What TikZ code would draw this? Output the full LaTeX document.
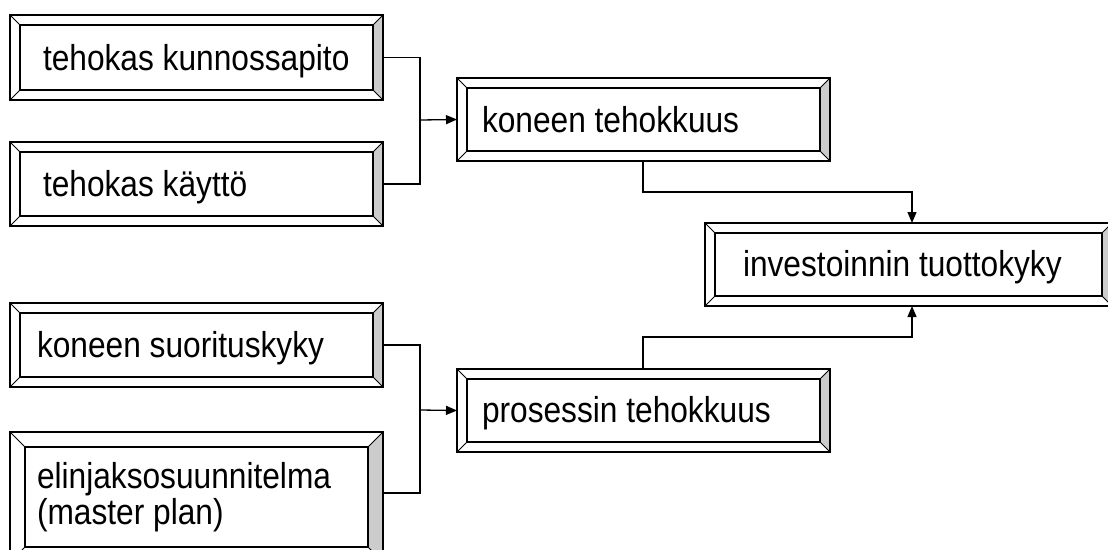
\documentclass[tikz,border=0pt]{standalone}
\usepackage{fontspec}
\setmainfont{Liberation Sans}[FakeStretch=0.88]
\usetikzlibrary{arrows.meta,calc}
\newcommand\bevelframe[2]{%
  \path (#1.north west) ++(#2,#2) coordinate (#1-a);
  \path (#1.north east) ++(-#2,#2) coordinate (#1-b);
  \path (#1.south east) ++(-#2,-#2) coordinate (#1-c);
  \path (#1.south west) ++(#2,-#2) coordinate (#1-d);
  \fill[bevelshade] (#1.north east) -- (#1.south east) -- (#1-c) -- (#1-b) -- cycle;
  \draw[outerline] (#1.north west) rectangle (#1.south east);
  \draw[innerline] (#1-a) rectangle (#1-c);
  \draw[diagline] (#1.north west) -- (#1-a) (#1.north east) -- (#1-b)
                  (#1.south east) -- (#1-c) (#1.south west) -- (#1-d);
}
\begin{document}
\begin{tikzpicture}[x=1pt,y=-1pt,
  boxn/.style={rectangle,draw=none,inner sep=0pt,outer sep=0pt},
  bevelshade/.style={fill=black!20},
  outerline/.style={line width=1.8pt,black},
  innerline/.style={line width=1.3pt,black},
  diagline/.style={line width=1pt,black},
  txt/.style={inner sep=0pt,outer sep=0pt,anchor=base west,font=\fontsize{36}{36}\selectfont,align=left},
  conn/.style={line width=1.3pt,black},
  arr/.style={conn,-{Triangle[length=11pt,width=9pt]}}]
\useasboundingbox (0,0) rectangle (1108,549);
\clip (0,0) rectangle (1108,549);
% boxes
\node[boxn,minimum width=373pt,minimum height=85pt] (b1) at (196.5,57.5) {};
\node[boxn,minimum width=373pt,minimum height=84pt] (b2) at (196.5,184) {};
\node[boxn,minimum width=373pt,minimum height=83pt] (b3) at (643.5,119.5) {};
\node[boxn,minimum width=407pt,minimum height=83pt] (b4) at (908.5,264.5) {};
\node[boxn,minimum width=373pt,minimum height=84pt] (b5) at (196.5,345) {};
\node[boxn,minimum width=373pt,minimum height=130pt] (b6) at (196.5,497) {};
\node[boxn,minimum width=373pt,minimum height=83pt] (b7) at (643.5,410.5) {};
\bevelframe{b1}{10}
\bevelframe{b2}{10}
\bevelframe{b3}{10}
\bevelframe{b4}{10}
\bevelframe{b5}{10}
\bevelframe{b6}{15}
\bevelframe{b7}{10}
% texts
\node[txt] (t1) at (43,70) {tehokas kunnossapito};
\node[txt] (t2) at (43,196) {tehokas käyttö};
\node[txt] (t3) at (482,132) {koneen tehokkuus};
\node[txt] (t4) at (743,276) {investoinnin tuottokyky};
\node[txt] (t5) at (37,357) {koneen suorituskyky};
\node[txt] (t6a) at (37,488) {elinjaksosuunnitelma};
\node[txt] (t6b) at (37,524) {(master plan)};
\node[txt] (t7) at (482,422) {prosessin tehokkuus};
% connectors
\coordinate (j1) at (420,120);
\draw[conn] (b1.east) -| (j1) |- (b2.east);
\draw[arr] (j1) -- (b3.west);
\coordinate (k1) at (643,192);
\coordinate (k2) at (912,192);
\draw[arr] (k1 |- b3.south) -- (k1) -- (k2) -- (k2 |- b4.north);
\coordinate (m1) at (643,337);
\coordinate (m2) at (912,337);
\draw[arr] (m1 |- b7.north) -- (m1) -- (m2) -- (m2 |- b4.south);
\coordinate (j2) at (420,410);
\coordinate (j2b) at (420,493);
\draw[conn] (b5.east) -| (j2) -- (j2b) -- (j2b -| b6.east);
\draw[arr] (j2) -- (b7.west);
\end{tikzpicture}
\end{document}
